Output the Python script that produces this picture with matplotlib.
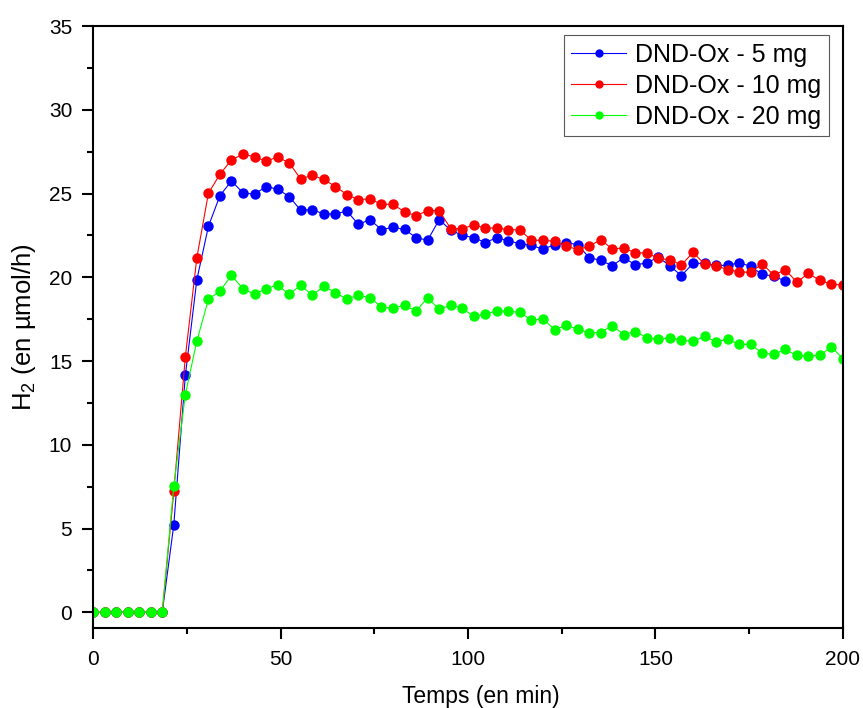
""" H2 production of DND-Ox at three loadings.
"""


""" IMPORTS """
import matplotlib
matplotlib.use("Agg")
import matplotlib.pyplot as plt
from matplotlib.ticker import MultipleLocator


""" INPUTS """
time_min = [0, 3.08, 6.15, 9.23, 12.31, 15.38, 18.46, 21.54, 24.62, 27.69,
            30.77, 33.85, 36.92, 40.0, 43.08, 46.15, 49.23, 52.31, 55.38, 58.46,
            61.54, 64.62, 67.69, 70.77, 73.85, 76.92, 80.0, 83.08, 86.15, 89.23,
            92.31, 95.38, 98.46, 101.54, 104.62, 107.69, 110.77, 113.85, 116.92, 120.0,
            123.08, 126.15, 129.23, 132.31, 135.38, 138.46, 141.54, 144.62, 147.69, 150.77,
            153.85, 156.92, 160.0, 163.08, 166.15, 169.23, 172.31, 175.38, 178.46, 181.54,
            184.62, 187.69, 190.77, 193.85, 196.92, 200.0]

h2_5mg = [0, 0, 0, 0, 0, 0, 0, 5.22, 14.15, 19.86,
          23.04, 24.88, 25.75, 25.04, 24.96, 25.42, 25.26, 24.82, 24.0, 24.04,
          23.78, 23.78, 23.96, 23.16, 23.44, 22.85, 22.98, 22.86, 22.37, 22.21,
          23.44, 22.82, 22.5, 22.37, 22.07, 22.37, 22.17, 22.01, 21.91, 21.67,
          21.95, 22.07, 21.95, 21.17, 21.01, 20.69, 21.17, 20.75, 20.85, 21.21,
          20.67, 20.10, 20.83, 20.83, 20.71, 20.71, 20.87, 20.65, 20.17, 20.07,
          19.77]

h2_10mg = [0, 0, 0, 0, 0, 0, 0, 7.21, 15.25, 21.17,
           25.02, 26.15, 27.01, 27.35, 27.19, 26.93, 27.18, 26.83, 25.87, 26.09,
           25.84, 25.42, 24.94, 24.64, 24.68, 24.36, 24.36, 23.90, 23.68, 23.98,
           23.98, 22.91, 22.91, 23.12, 22.94, 22.94, 22.85, 22.82, 22.21, 22.21,
           22.15, 21.87, 21.65, 21.85, 22.25, 21.69, 21.75, 21.46, 21.45, 21.13,
           21.05, 20.73, 21.49, 20.79, 20.69, 20.45, 20.33, 20.29, 20.81, 20.13,
           20.45, 19.71, 20.23, 19.81, 19.59, 19.53]

h2_20mg = [0, 0, 0, 0, 0, 0, 0, 7.55, 13.0, 16.2,
           18.68, 19.18, 20.11, 19.32, 18.98, 19.32, 19.53, 18.98, 19.53, 18.92,
           19.47, 19.08, 18.70, 18.93, 18.78, 18.24, 18.14, 18.34, 17.98, 18.78,
           18.08, 18.35, 18.15, 17.66, 17.80, 18.0, 17.98, 17.9, 17.44, 17.52,
           16.87, 17.14, 16.9, 16.69, 16.7, 17.12, 16.58, 16.76, 16.4, 16.29,
           16.39, 16.24, 16.17, 16.47, 16.15, 16.3, 15.99, 15.99, 15.47, 15.41,
           15.69, 15.33, 15.31, 15.33, 15.85, 15.13]

labels = ["DND-Ox - 5 mg", "DND-Ox - 10 mg", "DND-Ox - 20 mg"]
colors = ["#0000ff", "#ff0000", "#00ff00"]


""" FUNCTIONS """
def make_plot():
    plt.rcParams["font.family"] = ["Liberation Sans", "DejaVu Sans"]
    plt.rcParams["mathtext.default"] = "regular"

    fig = plt.figure(figsize=(8.63, 7.08), dpi=100)
    ax = fig.add_axes([0.1078, 0.113, 0.869, 0.8502])

    series = [h2_5mg, h2_10mg, h2_20mg]
    for values, label, color in zip(series, labels, colors):
        ax.plot(time_min[:len(values)], values, color=color, lw=0.8,
                marker="o", markersize=7.5, markeredgewidth=0, label=label)

    ax.set_xlim(0, 200)
    ax.set_ylim(-0.94, 35)
    ax.xaxis.set_major_locator(MultipleLocator(50))
    ax.xaxis.set_minor_locator(MultipleLocator(25))
    ax.yaxis.set_major_locator(MultipleLocator(5))
    ax.yaxis.set_minor_locator(MultipleLocator(2.5))

    for side in ax.spines.values():
        side.set_linewidth(1.5)
    ax.tick_params(which="major", length=8, width=1.5, labelsize=15)
    ax.tick_params(which="minor", length=4, width=1.5)
    ax.tick_params(axis="x", which="major", pad=8)
    ax.tick_params(axis="y", which="major", pad=7)

    # x title sits a little right of centre in the original
    ax.set_xlabel("Temps (en min)", fontsize=16.5, va="top")
    ax.xaxis.set_label_coords(0.517, -0.094)
    ax.set_ylabel("H$_2$ (en µmol/h)", fontsize=18.5, labelpad=8)

    leg = ax.legend(loc="upper right", bbox_to_anchor=(0.981, 0.985),
                    borderaxespad=0, fontsize=18, fancybox=False,
                    framealpha=1, edgecolor="0.35", handlelength=2.2,
                    handletextpad=0.35, labelspacing=0.28, borderpad=0.3,
                    markerscale=0.8)
    leg.get_frame().set_linewidth(0.8)

    fig.savefig("out.png", dpi=100)
    plt.close(fig)


def main():
    make_plot()


""" EXECUTION """
if __name__ == "__main__":
    main()
